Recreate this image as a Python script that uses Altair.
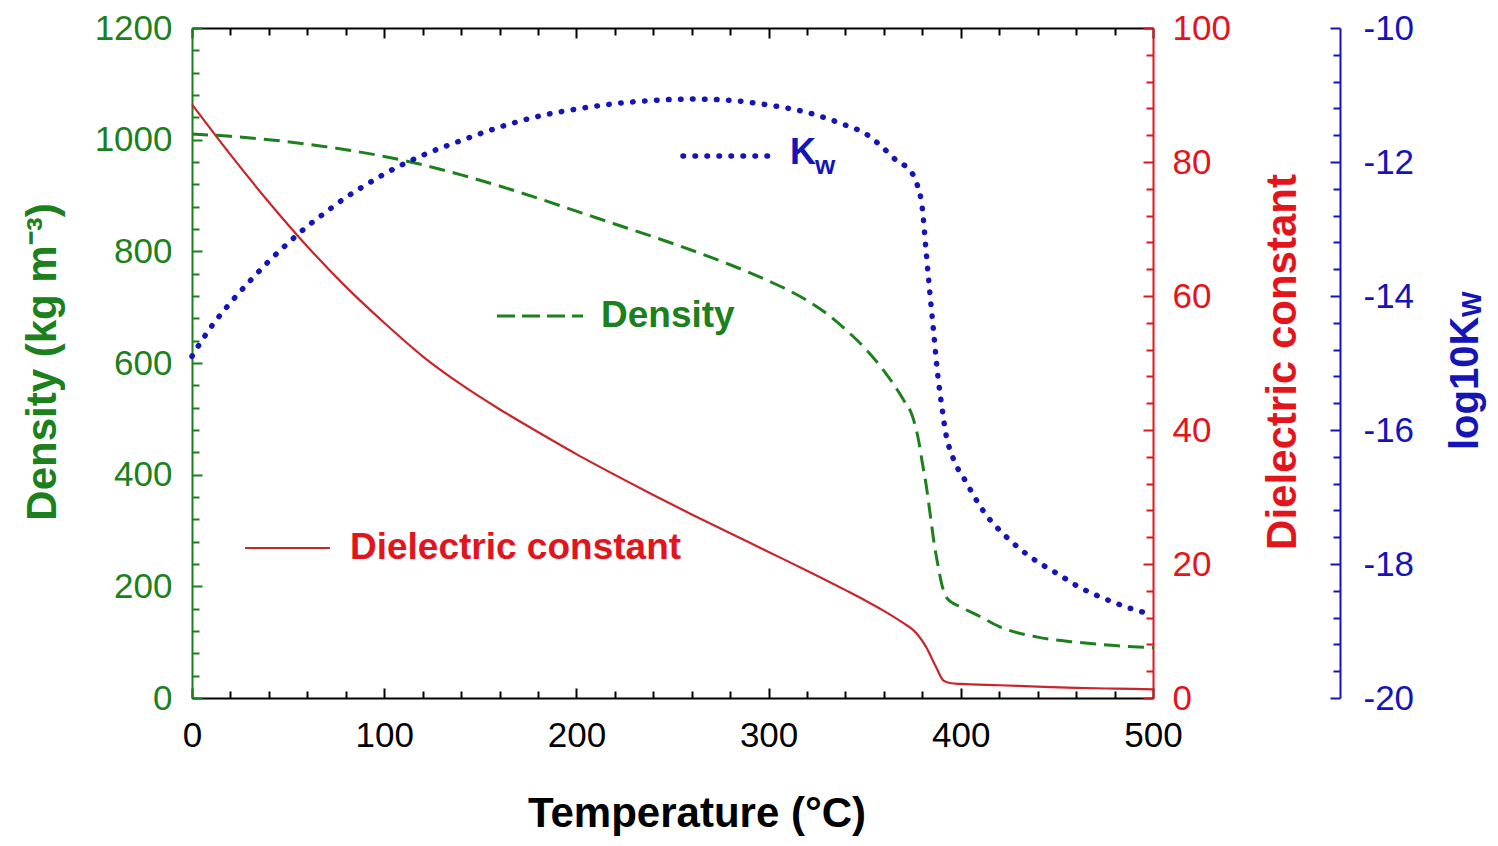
import altair as alt
import pandas as pd

# ---------------- data ----------------
T_dens = [0, 20, 40, 60, 80, 100, 120, 140, 160, 180, 200, 220, 240, 260, 280, 300, 320, 330,
          340, 350, 360, 365, 370, 375, 378, 380, 382, 384, 386, 388, 390, 393, 400, 410, 420,
          440, 460, 480, 500]
density = [1010, 1006, 1000, 992, 982, 970, 955, 937, 917, 895, 872, 849, 826, 802, 776, 747, 712,
           689, 660, 627, 586, 562, 535, 503, 462, 421, 381, 331, 280, 240, 205, 178, 163, 146,
           128, 109, 100, 94, 90]

T_eps = [0, 20, 40, 60, 80, 100, 120, 140, 160, 180, 200, 220, 240, 260, 280, 300, 320, 340,
         350, 360, 370, 375, 378, 382, 387, 391, 395, 400, 420, 440, 460, 480, 500]
eps = [88.6, 81.1, 74.0, 67.4, 61.4, 56.0, 51.0, 46.8, 43.1, 39.7, 36.4, 33.3, 30.3, 27.4, 24.6,
       21.8, 19.0, 16.1, 14.6, 13.0, 11.2, 10.2, 9.3, 7.6, 4.7, 2.6, 2.2, 2.1, 1.9, 1.7, 1.5,
       1.4, 1.3]

T_kw = [0, 5, 10, 20, 30, 40, 50, 60, 70, 80, 90, 100, 120, 140, 160, 180, 200, 220, 240, 260,
        280, 300, 320, 340, 350, 360, 367, 373, 377, 380, 382, 384, 386, 388, 390, 392, 396, 402,
        412, 425, 437, 450, 462, 475, 487, 500]
logkw = [-14.9, -14.67, -14.46, -14.1, -13.78, -13.48, -13.21, -12.96, -12.74, -12.53, -12.35,
         -12.18, -11.90, -11.68, -11.48, -11.32, -11.21, -11.13, -11.08, -11.06, -11.08, -11.15,
         -11.26, -11.45, -11.57, -11.80, -11.99, -12.11, -12.31, -12.70, -13.35, -13.98, -14.58,
         -15.18, -15.62, -16.02, -16.42, -16.74, -17.22, -17.63, -17.91, -18.14, -18.35, -18.52,
         -18.65, -18.76]

x_ticks = list(range(0, 501, 20))
dens_ticks = list(range(0, 1201, 40))
eps_ticks = list(range(0, 101, 4))
kw_ticks = [round(-20 + 0.4 * i, 1) for i in range(26)]

# ---------------- styling ----------------
GREEN = "#1c801c"
RED_TXT = "#e3151c"
RED_LINE = "#c8262a"
BLUE = "#1414b8"
FONT = "Liberation Sans"
W, H = 961, 670

df_d = pd.DataFrame({"T": T_dens, "v": density})
df_e = pd.DataFrame({"T": T_eps, "v": eps})
df_k = pd.DataFrame({"T": T_kw, "v": logkw})

xscale = alt.Scale(domain=[0, 500], nice=False, zero=False)


def x_axis(orient, show_labels):
    return alt.Axis(orient=orient, values=x_ticks, labels=show_labels,
                    labelExpr="datum.value % 100 === 0 ? '' + datum.value : ''",
                    labelFontSize=35, labelFont=FONT, labelColor="black", labelPadding=30,
                    labelFlush=False, labelOverlap=False, labelBound=False,
                    domainColor="black", domainWidth=2, tickColor="black", tickWidth=2,
                    tickSize={"expr": "datum.value % 100 === 0 ? -10 : -7"},
                    grid=False, title=None)


def y_axis(orient, values, major, color, pad, offset=0):
    return alt.Axis(orient=orient, values=values, offset=offset,
                    labelExpr=f"datum.value % {major} === 0 ? '' + datum.value : ''",
                    labelFontSize=35, labelFont=FONT, labelColor=color, labelPadding=pad,
                    labelFlush=False, labelOverlap=False, labelBound=False,
                    domainColor=color, domainWidth=2, tickColor=color, tickWidth=2,
                    tickSize={"expr": f"datum.value % {major} === 0 ? -10 : -7"},
                    grid=False, title=None)


dens_line = alt.Chart(df_d).mark_line(
    color=GREEN, strokeWidth=3, strokeDash=[16, 8], interpolate="monotone"
).encode(
    x=alt.X("T:Q", scale=xscale, axis=x_axis("bottom", True)),
    y=alt.Y("v:Q", scale=alt.Scale(domain=[0, 1200], nice=False),
            axis=y_axis("left", dens_ticks, 200, GREEN, 30)),
)

eps_line = alt.Chart(df_e).mark_line(
    color=RED_LINE, strokeWidth=2.2, interpolate="monotone"
).encode(
    x=alt.X("T:Q", scale=xscale, axis=x_axis("top", False)),
    y=alt.Y("v:Q", scale=alt.Scale(domain=[0, 100], nice=False),
            axis=y_axis("right", eps_ticks, 20, RED_TXT, 29)),
)

kw_line = alt.Chart(df_k).mark_line(
    color=BLUE, strokeWidth=5.5, strokeDash=[0.5, 11.5], strokeCap="round", interpolate="monotone"
).encode(
    x=alt.X("T:Q", scale=xscale, axis=None),
    y=alt.Y("v:Q", scale=alt.Scale(domain=[-20, -10], nice=False, zero=False),
            axis=y_axis("right", kw_ticks, 2, BLUE, 33, offset=187)),
)


def txt(s, x, y, size, color, angle=0, align="center", baseline="middle", weight="bold"):
    return alt.Chart(pd.DataFrame({"s": [s]})).mark_text(
        font=FONT, fontSize=size, fontWeight=weight, color=color, angle=angle,
        align=align, baseline=baseline
    ).encode(text="s:N", x=alt.value(x), y=alt.value(y))


def sample(x1, x2, y, color, width, dash=None, cap="butt"):
    kw = dict(color=color, strokeWidth=width, strokeCap=cap)
    if dash is not None:
        kw["strokeDash"] = dash
    return alt.Chart(pd.DataFrame({"a": [0]})).mark_rule(**kw).encode(
        x=alt.value(x1), x2=alt.value(x2), y=alt.value(y))


layers = [
    dens_line, eps_line, kw_line,
    # titles
    txt("Temperature (°C)", 505, 799, 42, "black", baseline="alphabetic"),
    txt("Density (kg m⁻³)", -149, 334, 42, GREEN, angle=270),
    txt("Dielectric constant", 1091, 334, 42, RED_TXT, angle=270),
    txt("log10K", 1274, 422, 40, BLUE, angle=270, align="left"),
    txt("W", 1281, 289, 27, BLUE, angle=270, align="left"),
    # in-plot legend
    sample(491, 578, 128, BLUE, 5.5, dash=[0.5, 11.5], cap="round"),
    txt("K", 598, 136, 36, BLUE, align="left", baseline="alphabetic"),
    txt("w", 623, 146, 26, BLUE, align="left", baseline="alphabetic"),
    sample(305, 391, 288, GREEN, 3, dash=[18, 7]),
    txt("Density", 409, 288, 37, GREEN, align="left"),
    sample(53, 138, 520, RED_LINE, 2.2),
    txt("Dielectric constant", 158, 520, 37, RED_TXT, align="left"),
]

chart = alt.layer(*layers).resolve_scale(
    x="independent", y="independent"
).properties(
    width=W, height=H,
    autosize=alt.AutoSizeParams(type="none"),
    padding={"left": 184, "top": 20, "right": 337, "bottom": 140},
).configure_view(strokeWidth=0)

chart.save("out.html", embed_options={"renderer": "svg", "actions": False})
